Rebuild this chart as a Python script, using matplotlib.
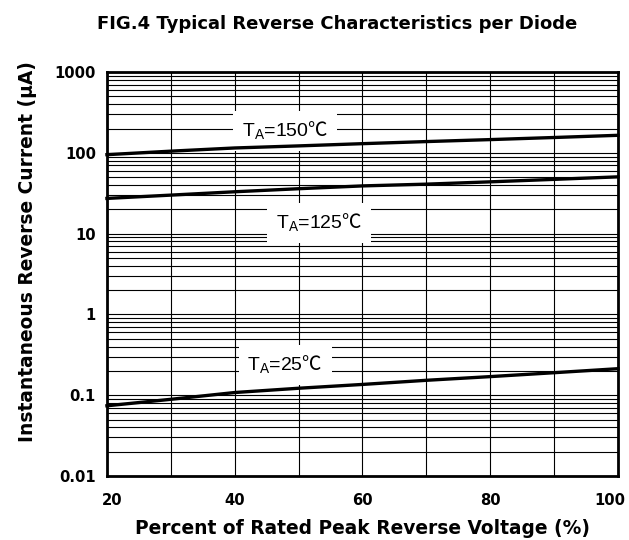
import numpy as np
import matplotlib
matplotlib.use("Agg")
import matplotlib.pyplot as plt
import matplotlib.transforms as mtrans
from matplotlib.ticker import FixedLocator, NullFormatter

plt.rcParams['font.family'] = ['Liberation Sans', 'Noto Sans CJK SC', 'DejaVu Sans']
plt.rcParams['mathtext.fontset'] = 'custom'
plt.rcParams['mathtext.rm'] = 'Liberation Sans'
plt.rcParams['mathtext.sf'] = 'Noto Sans CJK SC'

# percent of rated peak reverse voltage
voltage = [20, 30, 40, 50, 60, 70, 80, 90, 100]
# reverse current (uA) per temperature
i_150 = [95, 105, 115, 122, 130, 138, 146, 155, 165]
i_125 = [27.3, 30, 33, 36, 39, 41, 43.8, 47, 50.5]
i_25 = [0.074, 0.089, 0.108, 0.122, 0.136, 0.153, 0.17, 0.19, 0.213]

xticks = [20, 40, 60, 80, 100]
yticks = [0.01, 0.1, 1, 10, 100, 1000]
ytick_labels = ['0.01', '0.1', '1', '10', '100', '1000']

bold = dict(family=['DejaVu Sans'], fontweight='bold')

fig = plt.figure(figsize=(6.29, 5.40), dpi=100)
ax = fig.add_axes([0.170, 0.1185, 0.8125, 0.748])

ax.set_yscale('log')
ax.set_xlim(20, 100)
ax.set_ylim(0.01, 1000)

# grid: vertical every 10 %, horizontal at 1..9 per decade
ax.set_xticks(xticks)
ax.xaxis.set_minor_locator(FixedLocator(range(30, 100, 20)))
minor_y = [m * 10.0 ** d for d in range(-2, 3) for m in range(2, 10)]
ax.yaxis.set_minor_locator(FixedLocator(minor_y))
ax.yaxis.set_minor_formatter(NullFormatter())
ax.set_yticks(yticks)
ax.set_yticklabels(ytick_labels)
ax.grid(True, which='both', color='black', lw=0.8)
ax.tick_params(which='both', length=0)
ax.tick_params(axis='x', pad=12)
ax.tick_params(axis='y', pad=8)
for lab in ax.get_xticklabels() + ax.get_yticklabels():
    lab.set_fontfamily(['DejaVu Sans'])
    lab.set_fontweight('bold')
    lab.set_fontsize(10.6)

# end labels sit a little inside the frame
xl = ax.get_xticklabels()
xl[0].set_transform(xl[0].get_transform() + mtrans.ScaledTranslation(4 / 72, 0, fig.dpi_scale_trans))
xl[-1].set_transform(xl[-1].get_transform() + mtrans.ScaledTranslation(-6 / 72, 0, fig.dpi_scale_trans))

for s in ax.spines.values():
    s.set_linewidth(2)

for y in (i_150, i_125, i_25):
    ax.plot(voltage, y, color='black', lw=2.4, zorder=5, clip_on=False)

box = dict(boxstyle='square,pad=0.45', facecolor='white', edgecolor='none')
deg = '$\\mathsf{℃}$'
ax.text(47.9, 158, 'T$_\\mathrm{A}$=150' + deg, fontsize=14, ha='center', va='baseline', bbox=box, zorder=4)
ax.text(53.2, 11.6, 'T$_\\mathrm{A}$=125' + deg, fontsize=14, ha='center', va='baseline', bbox=box, zorder=4)
ax.text(47.9, 0.2, 'T$_\\mathrm{A}$=25' + deg, fontsize=14, ha='center', va='baseline', bbox=box, zorder=4)

fig.text(337 / 629, 1 - 24 / 540, 'FIG.4 Typical Reverse Characteristics per Diode',
         fontsize=13, ha='center', va='center', **bold)
ax.set_xlabel('Percent of Rated Peak Reverse Voltage (%)', fontsize=13.4, **bold)
ax.set_ylabel('Instantaneous Reverse Current (μA)', fontsize=13.4, **bold)
ax.xaxis.label.set_va('center')
ax.yaxis.label.set_va('center')
ax.xaxis.set_label_coords(0.5, -0.129)
ax.yaxis.set_label_coords(-0.155, 0.555)

fig.savefig('out.png', dpi=100)
